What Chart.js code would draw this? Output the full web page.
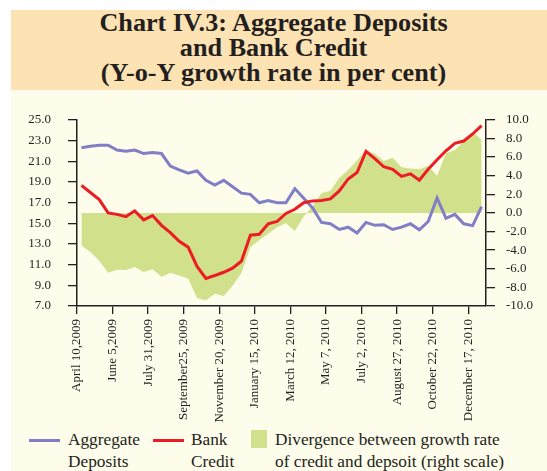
<!DOCTYPE html>
<html>
<head>
<meta charset="utf-8">
<script src="https://cdn.jsdelivr.net/npm/chart.js@4.4.0/dist/chart.umd.min.js"></script>
<style>
  body { margin: 0; width: 547px; height: 471px; overflow: hidden; position: relative; background: #fff;
         font-family: "Liberation Serif", "Times New Roman", serif; color: #231F20; }
  #frame { position: absolute; left: 11px; top: 10px; right: 0; bottom: 0; background: #FEFCEA; }
  #band { position: absolute; left: 11px; top: 10px; width: 536px; height: 80px; background: #FDE2B3; }
  #title { position: absolute; left: 0; top: 10px; width: 547px; text-align: center;
           font-weight: bold; font-size: 26.2px; line-height: 25px; }
  #chart { position: absolute; left: 0; top: 95px; }
  .sw { position: absolute; }
  .lg { position: absolute; top: 429px; font-size: 17.3px; line-height: 22px; }
</style>
</head>
<body>
<div id="frame"></div>
<div id="band"></div>
<div id="title">Chart IV.3: Aggregate Deposits<br>and Bank Credit<br>(Y-o-Y growth rate in per cent)</div>
<canvas id="chart" width="547" height="330"></canvas>

<div class="sw" style="left:29px;top:439px;width:31px;height:3px;background:#7F7EC6"></div>
<div class="lg" style="left:68px">Aggregate<br>Deposits</div>
<div class="sw" style="left:153px;top:439px;width:31px;height:3px;background:#EC1C24"></div>
<div class="lg" style="left:191px">Bank<br>Credit</div>
<div class="sw" style="left:251px;top:430px;width:16px;height:18px;background:#D1E08A"></div>
<div class="lg" style="left:275px">Divergence between growth rate<br>of credit and depsoit (right scale)</div>

<script>
// fortnightly reporting dates
const categories = [
    'Apr 10 2009', 'Apr 24 2009', 'May 8 2009', 'May 22 2009', 'Jun 5 2009', 'Jun 19 2009',
    'Jul 3 2009', 'Jul 17 2009', 'Jul 31 2009', 'Aug 14 2009', 'Aug 28 2009', 'Sep 11 2009',
    'Sep 25 2009', 'Oct 9 2009', 'Oct 23 2009', 'Nov 6 2009', 'Nov 20 2009', 'Dec 4 2009',
    'Dec 18 2009', 'Jan 1 2010', 'Jan 15 2010', 'Jan 29 2010', 'Feb 12 2010', 'Feb 26 2010',
    'Mar 12 2010', 'Mar 26 2010', 'Apr 9 2010', 'Apr 23 2010', 'May 7 2010', 'May 21 2010',
    'Jun 4 2010', 'Jun 18 2010', 'Jul 2 2010', 'Jul 16 2010', 'Jul 30 2010', 'Aug 13 2010',
    'Aug 27 2010', 'Sep 10 2010', 'Sep 24 2010', 'Oct 8 2010', 'Oct 22 2010', 'Nov 5 2010',
    'Nov 19 2010', 'Dec 3 2010', 'Dec 17 2010', 'Dec 31 2010'
];
const tickLabels = [
    'April 10,2009', 'June 5,2009', 'July 31,2009', 'September25, 2009', 'November 20, 2009',
    'January 15, 2010', 'March 12, 2010', 'May 7, 2010', 'July 2, 2010', 'August 27, 2010',
    'October 22, 2010', 'December 17, 2010'
];
const deposits = [
    22.3, 22.45, 22.55, 22.55, 22.08, 21.95, 22.08, 21.74, 21.83, 21.74, 20.52, 20.15,
    19.84, 20.06, 19.15, 18.69, 19.15, 18.53, 17.91, 17.79, 16.98, 17.2, 16.98,
    16.98, 18.35, 17.42, 16.48, 15.08, 14.95, 14.4, 14.62, 14.06, 15.08, 14.8,
    14.86, 14.4, 14.62, 14.95, 14.37, 15.17, 17.44, 15.48, 15.86, 14.95, 14.77, 16.6
];
const credit = [
    18.66, 17.97, 17.29, 16.0, 15.86, 15.64, 16.2, 15.33, 15.74, 14.8, 14.09, 13.25,
    12.69, 10.82, 9.67, 9.95, 10.26, 10.66, 11.35, 13.84, 13.93, 14.95, 15.17,
    15.95, 16.35, 16.98, 17.16, 17.2, 17.35, 18.13, 19.28, 19.9, 21.95, 21.24,
    20.46, 20.21, 19.53, 19.78, 19.15, 20.21, 21.14, 22.01, 22.73, 22.95, 23.63, 24.44
];
// credit minus deposit growth, right scale
const divergence = [
    -3.5, -4.2, -5.13, -6.44, -6.1, -6.13, -5.8, -6.34, -6.06, -6.85, -6.44, -6.72,
    -7.06, -9.14, -9.38, -8.69, -8.93, -7.82, -6.44, -3.68, -2.92, -2.23, -1.54,
    -1.09, -1.95, -0.4, 0.74, 2.12, 2.37, 3.75, 4.6, 5.65, 6.75, 6.34,
    5.58, 5.92, 4.89, 4.78, 4.68, 5.03, 3.99, 6.4, 6.75, 7.65, 8.68, 7.89
];

const ink = '#231F20';
const tickFont = { family: 'Liberation Serif', size: 13 };

new Chart(document.getElementById('chart'), {
    type: 'line',
    data: {
        labels: categories,
        datasets: [{
            label: 'Aggregate Deposits',
            data: deposits,
            yAxisID: 'y',
            borderColor: '#7F7EC6',
            borderWidth: 3,
            pointRadius: 0,
            tension: 0,
            order: 2
        }, {
            label: 'Bank Credit',
            data: credit,
            yAxisID: 'y',
            borderColor: '#EC1C24',
            borderWidth: 3,
            pointRadius: 0,
            tension: 0,
            order: 1
        }, {
            label: 'Divergence between growth rate of credit and depsoit (right scale)',
            data: divergence,
            yAxisID: 'y1',
            borderWidth: 0,
            borderColor: 'rgba(0,0,0,0)',
            backgroundColor: '#D1E08A',
            fill: 'origin',
            pointRadius: 0,
            tension: 0,
            order: 3
        }]
    },
    options: {
        responsive: false,
        animation: false,
        layout: { padding: { top: 18, left: 0, right: 0, bottom: 0 } },
        plugins: {
            legend: { display: false },
            tooltip: { enabled: false }
        },
        scales: {
            x: {
                offset: true,
                grid: {
                    offset: true,
                    drawOnChartArea: false,
                    tickLength: 8,
                    lineWidth: 1.3,
                    color: (c) => (c.index % 4 === 0 ? ink : 'rgba(0,0,0,0)')
                },
                border: { color: ink, width: 1.5 },
                ticks: {
                    autoSkip: false,
                    maxRotation: 90,
                    minRotation: 90,
                    labelOffset: -4.4,
                    padding: 5,
                    color: ink,
                    font: tickFont,
                    callback: (v, i) => (i % 4 === 0 ? tickLabels[i / 4] : '')
                },
                afterFit: (s) => { s.height = 119; }
            },
            y: {
                position: 'left',
                min: 7,
                max: 25,
                grid: { drawOnChartArea: false, tickLength: 9, color: ink, lineWidth: 1.3 },
                border: { color: ink, width: 1.5 },
                ticks: {
                    stepSize: 2,
                    padding: 17,
                    color: ink,
                    font: tickFont,
                    callback: (v) => v.toFixed(1)
                },
                afterFit: (s) => { s.width = 77; }
            },
            y1: {
                position: 'right',
                min: -10,
                max: 10,
                grid: { drawOnChartArea: false, tickLength: 9, color: ink, lineWidth: 1.3 },
                border: { color: ink, width: 1.5 },
                ticks: {
                    stepSize: 2,
                    padding: 11,
                    color: ink,
                    font: tickFont,
                    callback: (v) => v.toFixed(1)
                },
                afterFit: (s) => { s.width = 61; }
            }
        }
    }
});
</script>
</body>
</html>
